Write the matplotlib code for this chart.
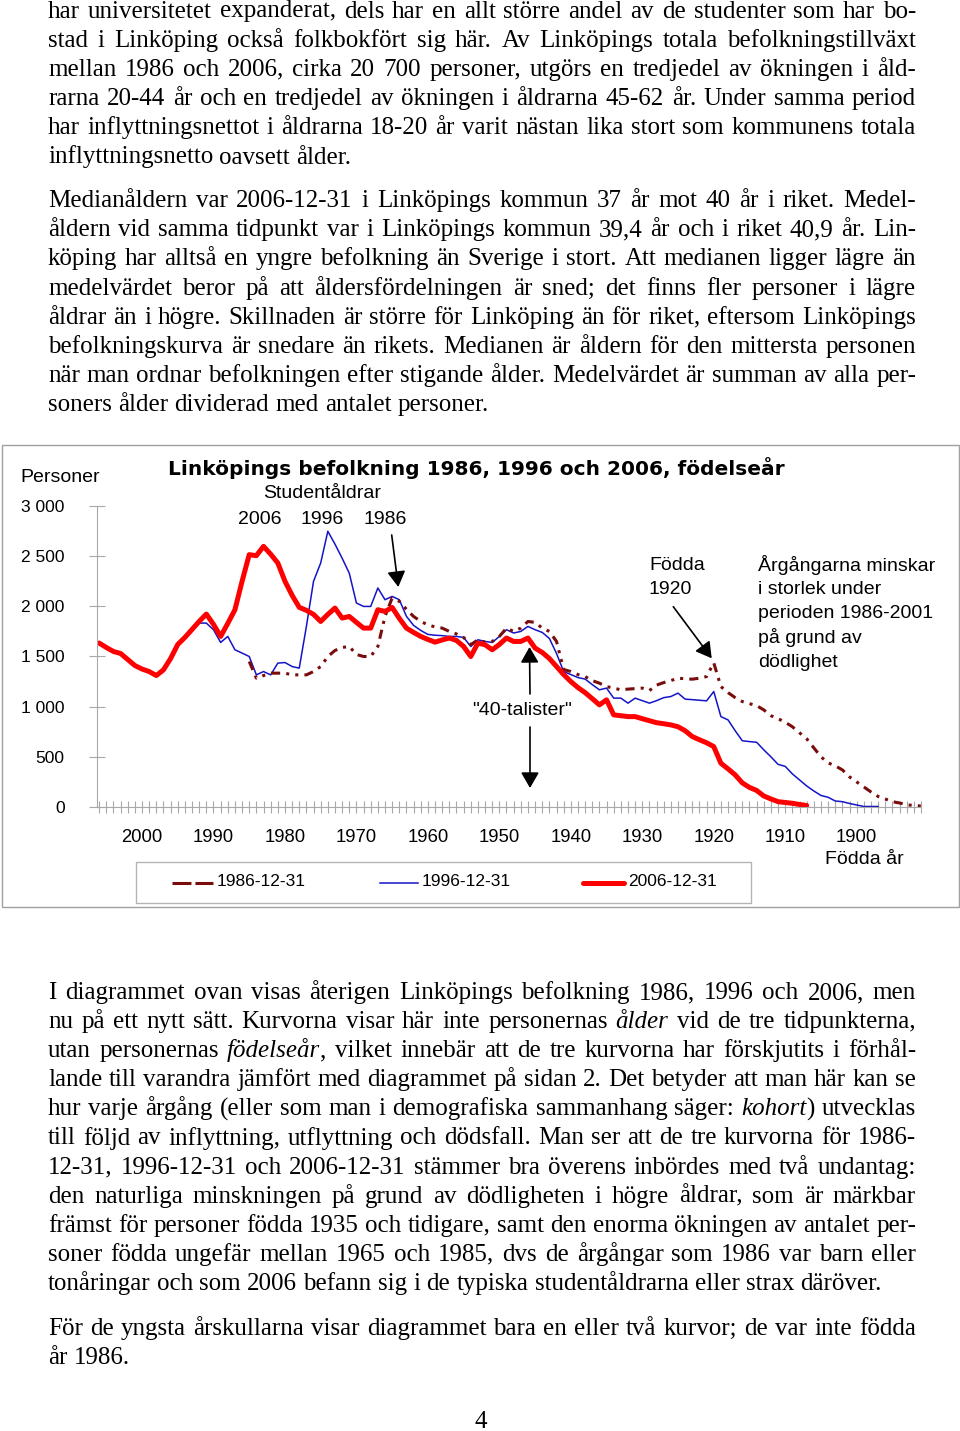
import matplotlib
matplotlib.use("Agg")
import matplotlib.pyplot as plt
from matplotlib.font_manager import FontProperties
from matplotlib.patches import Rectangle, FancyArrowPatch
from matplotlib.lines import Line2D
from matplotlib.ticker import MultipleLocator, FuncFormatter

W, H = 960, 1431

# Population by year of birth
years_2006 = list(range(2006, 1906, -1))
pop_2006 = [1634, 1590, 1550, 1530, 1470, 1410, 1375, 1350, 1310, 1367,
            1480, 1620, 1690, 1770, 1850, 1923, 1820, 1700, 1830, 1966,
            2250, 2515, 2505, 2598, 2520, 2432, 2250, 2110, 1990, 1960,
            1920, 1849, 1920, 1983, 1883, 1899, 1840, 1783, 1783, 1966,
            1949, 1989, 1880, 1783, 1740, 1700, 1670, 1643, 1665, 1684,
            1660, 1600, 1500, 1634, 1617, 1567, 1620, 1684, 1650, 1650,
            1684, 1584, 1540, 1480, 1400, 1320, 1250, 1190, 1140, 1080,
            1018, 1068, 918, 910, 901, 901, 880, 860, 840, 830,
            818, 800, 760, 702, 670, 640, 602, 436, 380, 320,
            240, 195, 165, 110, 80, 53, 45, 37, 25, 15]

years_1996 = list(range(1992, 1896, -1))
pop_1996 = [1833, 1833, 1767, 1640, 1700, 1567, 1534, 1500, 1317, 1350,
            1317, 1434, 1440, 1400, 1384, 1800, 2250, 2432, 2748, 2620,
            2480, 2330, 2033, 1999, 1999, 2183, 2066, 2099, 2066, 1900,
            1810, 1760, 1720, 1712, 1708, 1700, 1700, 1690, 1600, 1667,
            1650, 1640, 1700, 1767, 1734, 1750, 1800, 1767, 1740, 1680,
            1530, 1350, 1320, 1290, 1275, 1220, 1168, 1185, 1085, 1085,
            1035, 1085, 1060, 1035, 1060, 1090, 1101, 1135, 1075, 1070,
            1064, 1058, 1151, 901, 868, 760, 660, 652, 645, 570,
            500, 425, 405, 330, 270, 210, 160, 115, 97, 60,
            53, 35, 20, 5, 5, 5]

years_1986 = list(range(1985, 1890, -1))
pop_1986 = [1450, 1284, 1310, 1334, 1334, 1334, 1317, 1317, 1317, 1350,
            1400, 1500, 1560, 1590, 1600, 1520, 1500, 1500, 1600, 1900,
            2083, 2050, 1970, 1899, 1850, 1815, 1795, 1783, 1750, 1725,
            1690, 1617, 1667, 1643, 1650, 1700, 1783, 1750, 1783, 1849,
            1840, 1783, 1750, 1650, 1370, 1350, 1320, 1300, 1260, 1234,
            1200, 1185, 1168, 1175, 1180, 1185, 1161, 1215, 1240, 1260,
            1284, 1278, 1274, 1284, 1300, 1437, 1200, 1140, 1090, 1051,
            1030, 1010, 968, 910, 880, 845, 800, 740, 680, 590,
            500, 440, 410, 370, 300, 250, 200, 150, 105, 80,
            53, 40, 22, 15, 10]

x_ticks = list(range(2000, 1899, -10))
y_ticks = list(range(0, 3001, 500))

SERIF = "Liberation Serif"
SANS = "Liberation Sans"
BODY = 18.0
GRAY = "#a8a8a8"

fig = plt.figure(figsize=(9.6, 14.31), dpi=100)
renderer = fig.canvas.get_renderer()


def fx(x):
    return x / W


def fy(y):
    return 1 - y / H


def text_width(s, italic=False):
    fp = FontProperties(family=SERIF, size=BODY, style="italic" if italic else "normal")
    w, h, d = renderer.get_text_width_height_descent(s, fp, ismath=False)
    return w


SPACE = text_width("n n") - text_width("nn")
LEFT, RIGHT = 48, 916


def draw_line(text, base_y, justify=True):
    # words may contain *italic* parts
    pieces = [[(p, i % 2 == 1) for i, p in enumerate(w.split("*")) if p] for w in text.split()]
    widths = [sum(text_width(p, it) for p, it in segs) for segs in pieces]
    if justify and len(pieces) > 1:
        gap = (RIGHT - LEFT - sum(widths)) / (len(pieces) - 1)
    else:
        gap = SPACE
    x = LEFT
    for segs, wd in zip(pieces, widths):
        xx = x
        for p, it in segs:
            fig.text(fx(xx), fy(base_y), p, fontsize=BODY, family=SERIF,
                     style="italic" if it else "normal", ha="left", va="baseline")
            xx += text_width(p, it)
        x += wd + gap


def draw_paragraph(lines, first_base, step=29.2, last_justified=False):
    for i, line in enumerate(lines):
        last = i == len(lines) - 1
        draw_line(line, first_base + i * step, justify=(not last) or last_justified)


para1 = [
    "har universitetet expanderat, dels har en allt större andel av de studenter som har bo-",
    "stad i Linköping också folkbokfört sig här. Av Linköpings totala befolkningstillväxt",
    "mellan 1986 och 2006, cirka 20 700 personer, utgörs en tredjedel av ökningen i åld-",
    "rarna 20-44 år och en tredjedel av ökningen i åldrarna 45-62 år. Under samma period",
    "har inflyttningsnettot i åldrarna 18-20 år varit nästan lika stort som kommunens totala",
    "inflyttningsnetto oavsett ålder.",
]
para2 = [
    "Medianåldern var 2006-12-31 i Linköpings kommun 37 år mot 40 år i riket. Medel-",
    "åldern vid samma tidpunkt var i Linköpings kommun 39,4 år och i riket 40,9 år. Lin-",
    "köping har alltså en yngre befolkning än Sverige i stort. Att medianen ligger lägre än",
    "medelvärdet beror på att åldersfördelningen är sned; det finns fler personer i lägre",
    "åldrar än i högre. Skillnaden är större för Linköping än för riket, eftersom Linköpings",
    "befolkningskurva är snedare än rikets. Medianen är åldern för den mittersta personen",
    "när man ordnar befolkningen efter stigande ålder. Medelvärdet är summan av alla per-",
    "soners ålder dividerad med antalet personer.",
]
para3 = [
    "I diagrammet ovan visas återigen Linköpings befolkning 1986, 1996 och 2006, men",
    "nu på ett nytt sätt. Kurvorna visar här inte personernas *ålder* vid de tre tidpunkterna,",
    "utan personernas *födelseår*, vilket innebär att de tre kurvorna har förskjutits i förhål-",
    "lande till varandra jämfört med diagrammet på sidan 2. Det betyder att man här kan se",
    "hur varje årgång (eller som man i demografiska sammanhang säger: *kohort*) utvecklas",
    "till följd av inflyttning, utflyttning och dödsfall. Man ser att de tre kurvorna för 1986-",
    "12-31, 1996-12-31 och 2006-12-31 stämmer bra överens inbördes med två undantag:",
    "den naturliga minskningen på grund av dödligheten i högre åldrar, som är märkbar",
    "främst för personer födda 1935 och tidigare, samt den enorma ökningen av antalet per-",
    "soner födda ungefär mellan 1965 och 1985, dvs de årgångar som 1986 var barn eller",
    "tonåringar och som 2006 befann sig i de typiska studentåldrarna eller strax däröver.",
]
para4 = [
    "För de yngsta årskullarna visar diagrammet bara en eller två kurvor; de var inte födda",
    "år 1986.",
]

draw_paragraph(para1, 17.5)
draw_paragraph(para2, 207)
draw_paragraph(para3, 999, step=29.1)
draw_paragraph(para4, 1335)
fig.text(fx(481), fy(1428), "4", fontsize=BODY, family=SERIF, ha="center", va="baseline")

# Chart frame
fig.add_artist(Rectangle((fx(2), fy(907)), 957 / W, (907 - 445) / H, transform=fig.transFigure,
                         fill=False, edgecolor="#a0a0a0", lw=1))

ax = fig.add_axes([fx(97), fy(807), (921 - 97) / W, (807 - 506) / H])
ax.plot(years_1996, pop_1996, color="#1414c8", lw=1.1)
ax.plot(years_1986, pop_1986, color="#7a0c0c", lw=2.2, dashes=(3, 2, 1, 2, 1, 2))
ax.plot(years_2006, pop_2006, color="#ff0000", lw=3.6, solid_joinstyle="round",
        solid_capstyle="round")
ax.set_xlim(2006.3, 1891.0)
ax.set_ylim(0, 3000)
ax.set_xticks(x_ticks)
ax.xaxis.set_minor_locator(MultipleLocator(1))
ax.set_yticks(y_ticks)
ax.yaxis.set_major_formatter(FuncFormatter(lambda v, p: f"{int(v):,}".replace(",", " ")))
ax.tick_params(axis="x", which="both", direction="inout", length=8, width=0.8, color=GRAY,
               pad=12, labelsize=13.3)
ax.tick_params(axis="y", direction="inout", length=12, width=0.8, color=GRAY, pad=17.4,
               labelsize=12.5)
for lab in ax.get_xticklabels() + ax.get_yticklabels():
    lab.set_family(SANS)
for s in ["top", "right"]:
    ax.spines[s].set_visible(False)
for s in ["left", "bottom"]:
    ax.spines[s].set_color(GRAY)
    ax.spines[s].set_linewidth(0.8)
ax.patch.set_alpha(0)

# Titles and annotations
fig.text(fx(20), fy(478), "Personer", fontsize=14, family=SANS, va="center")
fig.text(fx(168), fy(468), "Linköpings befolkning 1986, 1996 och 2006, födelseår",
         fontsize=14.5, family="DejaVu Sans", weight="bold", va="center")
fig.text(fx(322), fy(494), "Studentåldrar", fontsize=14, family=SANS, ha="center", va="center")
for lx, lab in [(260, "2006"), (322, "1996"), (385, "1986")]:
    fig.text(fx(lx), fy(519), lab, fontsize=14, family=SANS, ha="center", va="center")
fig.text(fx(649), fy(565), "Födda", fontsize=14, family=SANS, va="center")
fig.text(fx(649), fy(589), "1920", fontsize=14, family=SANS, va="center")
note = ["Årgångarna minskar", "i storlek under", "perioden 1986-2001", "på grund av", "dödlighet"]
for i, line in enumerate(note):
    fig.text(fx(758), fy(565 + i * 24.3), line, fontsize=14, family=SANS, va="center")
fig.text(fx(522), fy(710), '"40-talister"', fontsize=14, family=SANS, ha="center", va="center")
fig.text(fx(825), fy(860), "Födda år", fontsize=14, family=SANS, va="center")


def arrow(x0, y0, x1, y1):
    fig.add_artist(FancyArrowPatch((fx(x0), fy(y0)), (fx(x1), fy(y1)), transform=fig.transFigure,
                                   arrowstyle="-|>,head_length=0.95,head_width=0.55",
                                   mutation_scale=10, color="black", lw=1.2,
                                   shrinkA=0, shrinkB=0))


arrow(391.7, 535, 398.3, 587)
arrow(673.3, 606.7, 711.7, 658.3)
arrow(530, 694, 529.5, 647)
arrow(530, 727, 530, 788)

# Legend
fig.add_artist(Rectangle((fx(136), fy(903)), (751 - 136) / W, (903 - 862) / H,
                         transform=fig.transFigure, fill=False, edgecolor="#b4b4b4", lw=1))
legend = [
    (172, 213, dict(color="#7a0c0c", lw=2.2, dashes=(6.2, 1.3)), "1986-12-31"),
    (380, 418, dict(color="#1414c8", lw=1.1), "1996-12-31"),
    (583, 624, dict(color="#ff0000", lw=3.6, solid_capstyle="round"), "2006-12-31"),
]
for x0, x1, style, lab in legend:
    fig.add_artist(Line2D([fx(x0), fx(x1)], [fy(883), fy(883)], transform=fig.transFigure, **style))
    fig.text(fx(x1 + 4), fy(882), lab, fontsize=12.5, family=SANS, va="center")

fig.savefig("out.png", dpi=100)
